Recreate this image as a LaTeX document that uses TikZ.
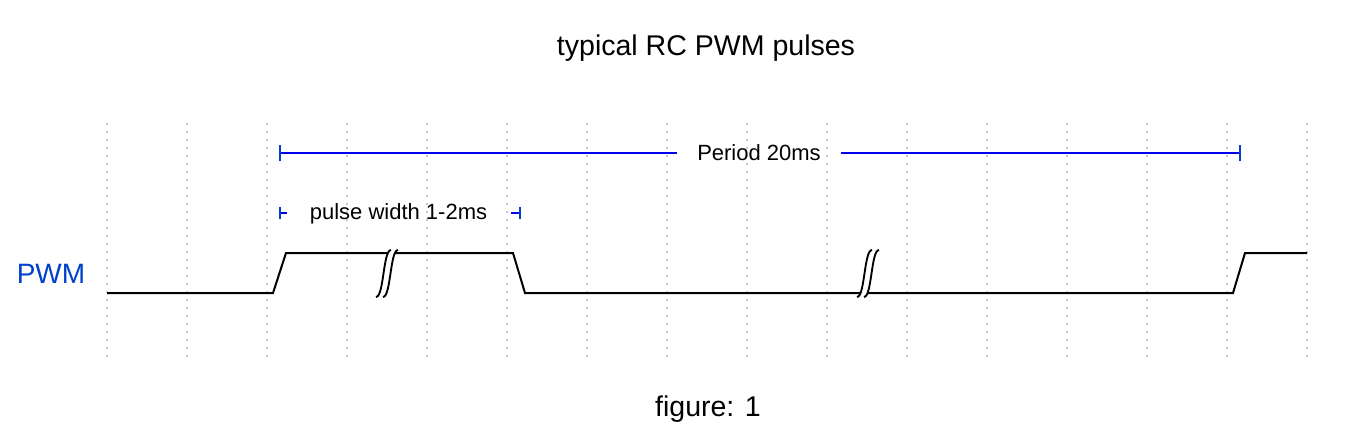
\documentclass[tikz,border=0pt]{standalone}
\usepackage{fontspec}
\setmainfont{Liberation Sans}
\definecolor{linkblue}{RGB}{0,0,235}
\definecolor{barblue}{RGB}{0,64,204}
\definecolor{gridgray}{RGB}{200,200,200}
\tikzset{
  gridline/.style={gridgray, line width=1.5pt, dash pattern=on 1.5pt off 4.5pt},
  signal/.style={black, line width=1.5pt, line join=miter},
  dimline/.style={linkblue, line width=1.5pt},
  dimbar/.style={barblue, line width=1.5pt},
  dimtext/.style={font=\fontsize{16.5pt}{18pt}\selectfont, text=black, inner ysep=0pt},
  bigtext/.style={font=\fontsize{21.4pt}{24pt}\selectfont, text=black, inner sep=0pt},
  brk/.pic={
    \fill[white] (0,0) .. controls (8,0) and (7,-47) .. (15,-47) -- (22,-47)
       .. controls (14,-47) and (15,0) .. (7,0) -- cycle;
    \draw[black, line width=1.4pt] (0,0) .. controls (8,0) and (7,-47) .. (15,-47);
    \draw[black, line width=1.4pt] (7,0) .. controls (15,0) and (14,-47) .. (22,-47);
  }
}
\begin{document}
\begin{tikzpicture}[x=0.75pt, y=-0.75pt]
\useasboundingbox (0,0) rectangle (1372,440);
% grid
\foreach \gx in {107,187,...,1307} {
  \draw[gridline] (\gx,123) -- (\gx,357);
}
% texts
\node[bigtext, anchor=base] (title) at (706,55) {typical RC PWM pulses};
\node[bigtext, anchor=base] (fig) at (708,416) {figure: 1};
\node[font=\fontsize{21pt}{24pt}\selectfont, text=barblue, inner sep=0pt, anchor=base] (pwm) at (51,283) {PWM};
% period dimension
\coordinate (pa) at (280,153);
\coordinate (pb) at (1240,153);
\node[dimtext, inner xsep=15pt] (period) at (759,153) {Period 20ms};
\draw[dimline] (pa) -- (period.west);
\draw[dimline] (period.east) -- (pb);
\draw[dimbar] ([yshift=-6pt]pa) -- ([yshift=6pt]pa);
\draw[dimbar] ([yshift=-6pt]pb) -- ([yshift=6pt]pb);
% pulse width dimension
\coordinate (wa) at (280,213);
\coordinate (wa2) at (287,213);
\coordinate (wb) at (520,213);
\coordinate (wb2) at (511,213);
\node[dimtext, anchor=base] (pw) at (398.5,219) {pulse width 1-2ms};
\draw[dimline] (wa) -- (wa2);
\draw[dimline] (wb2) -- (wb);
\draw[dimbar] ([yshift=-4.5pt]wa) -- ([yshift=4.5pt]wa);
\draw[dimbar] ([yshift=-4.5pt]wb) -- ([yshift=4.5pt]wb);
% signal
\draw[signal] (107,293) -- (273,293) -- (286,253) -- (513,253) -- (525,293)
  -- (1233,293) -- (1245,253) -- (1307,253);
% breaks
\pic at (376,297) {brk};
\pic at (857,297) {brk};
\end{tikzpicture}
\end{document}
